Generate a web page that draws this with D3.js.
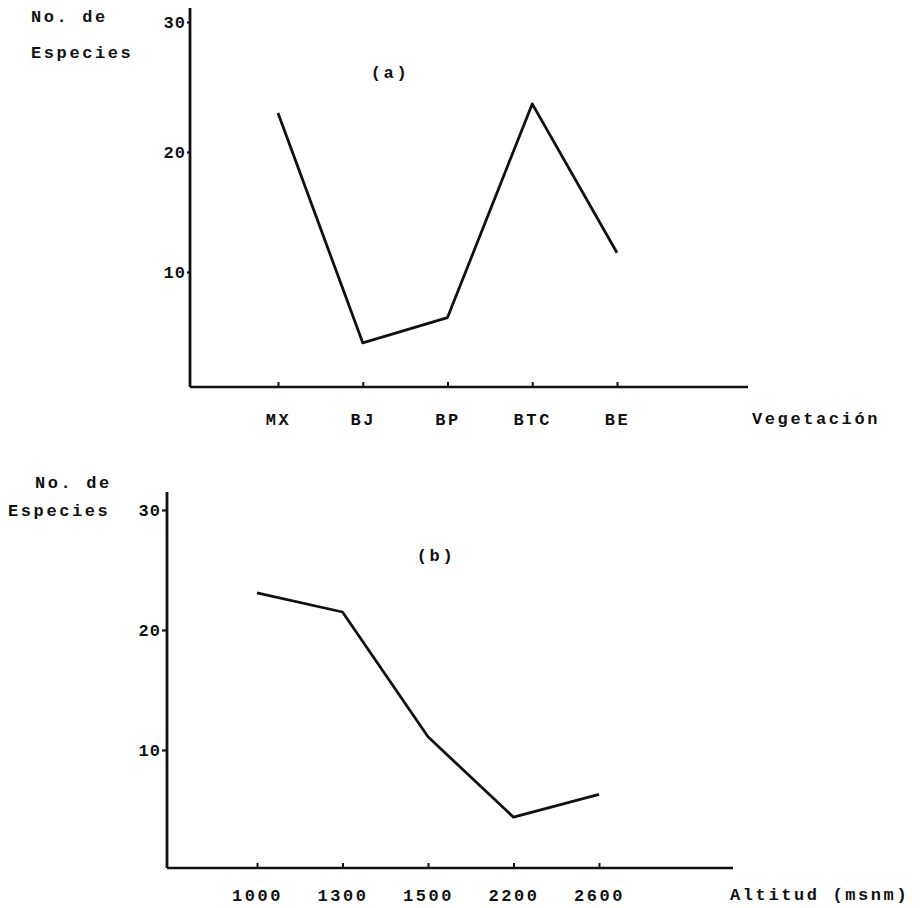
<!DOCTYPE html>
<html><head><meta charset="utf-8">
<script src="https://cdn.jsdelivr.net/npm/d3@7"></script>
<style>
body{margin:0;background:#fff;}
text{font-family:"Liberation Mono","DejaVu Sans Mono",monospace;fill:#111;}
</style></head>
<body><svg id="c" width="924" height="908"></svg>
<script>
const vegetationCats = ["MX","BJ","BP","BTC","BE"];
const vegetationSpecies = [23.0, 4.1, 6.2, 23.7, 11.6];
const altitudeCats = ["1000","1300","1500","2200","2600"];
const altitudeSpecies = [23.1, 21.5, 11.1, 4.4, 6.3];
const yTicks = [10, 20, 30];
const yLevels = [0, 10, 20, 30];

const svg = d3.select("#c");
const fontSize = 17, ls = "2.6px";

function styleText(sel){
  sel.attr("font-size",fontSize).style("letter-spacing",ls).attr("font-weight","bold")
    .style("font-family",'"Liberation Mono",monospace').attr("fill","#111");
}

function panel(o){
  const g = svg.append("g");
  const y = d3.scaleLinear().domain(yLevels).range(o.yRange);
  const x = d3.scalePoint().domain(o.cats).range([o.xFirst, o.xLast]);
  g.append("line").attr("x1",o.axX).attr("x2",o.axX).attr("y1",o.axTop).attr("y2",o.axBottom)
    .attr("stroke","#111").attr("stroke-width",2.8);
  g.append("line").attr("x1",o.axX).attr("x2",o.axRight).attr("y1",o.axBottom).attr("y2",o.axBottom)
    .attr("stroke","#111").attr("stroke-width",2.5);
  const ya = g.append("g").attr("transform",`translate(${o.axX},0)`)
    .call(d3.axisLeft(y).tickValues(yTicks).tickSize(o.ySize).tickPadding(1).tickFormat(d3.format("d")));
  ya.select(".domain").remove();
  ya.selectAll("line").attr("stroke","#111").attr("stroke-width",2.2);
  styleText(ya.selectAll("text"));
  ya.selectAll("text").style("letter-spacing","1px");
  const xa = g.append("g").attr("transform",`translate(0,${o.axBottom})`)
    .call(d3.axisBottom(x).tickSize(-5).tickPadding(o.tickPad));
  xa.select(".domain").remove();
  xa.selectAll("line").attr("stroke","#111").attr("stroke-width",2);
  styleText(xa.selectAll("text"));
  const line = d3.line().x((d,i)=>x(o.cats[i])).y(d=>y(d));
  g.append("path").datum(o.vals).attr("d",line).attr("fill","none")
    .attr("stroke","#111").attr("stroke-width",2.8).attr("stroke-linejoin","round");
}

panel({cats:vegetationCats, vals:vegetationSpecies, yRange:[392,272,152,22], xFirst:278, xLast:617,
  axX:190, axTop:8, axBottom:387, axRight:748, tickPad:26, ySize:3});
panel({cats:altitudeCats, vals:altitudeSpecies, yRange:[870,750,630,510], xFirst:257, xLast:599,
  axX:167, axTop:492, axBottom:868, axRight:733, tickPad:21, ySize:5});

function t(x,y,s,anchor){
  const e = svg.append("text").attr("x",x).attr("y",y).attr("text-anchor",anchor||"start").text(s);
  styleText(e);
}
t(31,22,"No. de");
t(31,58,"Especies");
t(390,78,"(a)","middle");
t(752,424,"Vegetación");
t(35,488,"No. de");
t(8,516,"Especies");
t(436,561,"(b)","middle");
t(730,900,"Altitud (msnm)");
</script></body></html>
